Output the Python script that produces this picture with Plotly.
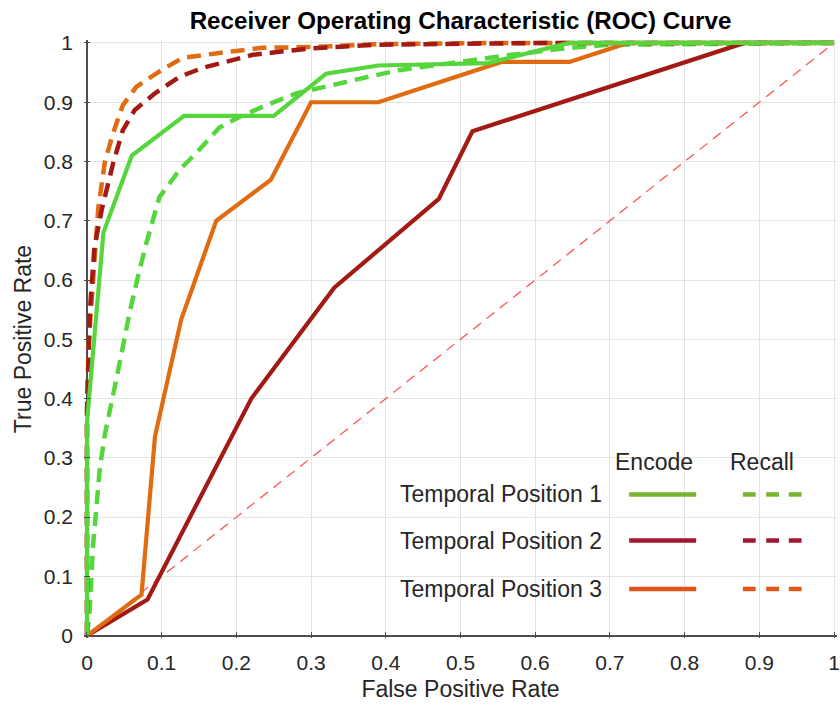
import plotly.graph_objects as go

# ---- data ----
fpr_enc1 = [0, 0, 0.022, 0.06, 0.13, 0.25, 0.32, 0.39, 0.537, 0.645, 1]
tpr_enc1 = [0, 0.36, 0.68, 0.81, 0.877, 0.877, 0.948, 0.962, 0.966, 1, 1]

fpr_rec1 = [0, 0.004, 0.008, 0.011, 0.017, 0.024, 0.031, 0.04, 0.048, 0.057, 0.069, 0.08,
            0.097, 0.124, 0.146, 0.177, 0.204, 0.24, 0.28, 0.31, 0.377, 0.417, 0.493,
            0.568, 0.64, 0.70, 1]
tpr_rec1 = [0, 0.05, 0.15, 0.2, 0.28, 0.34, 0.386, 0.437, 0.487, 0.545, 0.61, 0.665,
            0.74, 0.786, 0.814, 0.857, 0.875, 0.895, 0.915, 0.924, 0.943, 0.954, 0.968,
            0.98, 0.991, 0.997, 1]

fpr_enc2 = [0, 0.081, 0.22, 0.331, 0.471, 0.516, 0.88, 1]
tpr_enc2 = [0, 0.061, 0.40, 0.587, 0.737, 0.851, 1, 1]

fpr_rec2 = [0, 0, 0.004, 0.01, 0.02, 0.035, 0.048, 0.064, 0.091, 0.124, 0.155, 0.186,
            0.222, 0.257, 0.30, 0.39, 0.61, 1]
tpr_rec2 = [0, 0.38, 0.55, 0.656, 0.72, 0.797, 0.853, 0.887, 0.915, 0.943, 0.958, 0.968,
            0.98, 0.985, 0.991, 0.997, 1, 1]

fpr_enc3 = [0, 0.073, 0.091, 0.126, 0.173, 0.246, 0.30, 0.39, 0.555, 0.646, 0.724, 1]
tpr_enc3 = [0, 0.069, 0.336, 0.533, 0.70, 0.769, 0.90, 0.90, 0.968, 0.968, 1, 1]

fpr_rec3 = [0, 0, 0.002, 0.006, 0.01, 0.015, 0.024, 0.035, 0.048, 0.066, 0.097, 0.128,
            0.177, 0.235, 0.30, 0.39, 0.55, 1]
tpr_rec3 = [0, 0.36, 0.49, 0.57, 0.64, 0.72, 0.80, 0.848, 0.895, 0.926, 0.952, 0.975,
            0.983, 0.992, 0.993, 0.998, 1, 1]

chance = [0, 1]

series_names = ["Temporal Position 1", "Temporal Position 2", "Temporal Position 3"]
curve_colors = ["#55d63d", "#a31a14", "#e06b10"]
legend_colors = ["#79b52b", "#a51632", "#e0561a"]
column_labels = ["Encode", "Recall"]

ticks = [round(i * 0.1, 1) for i in range(11)]
tick_text = ["0"] + [f"{t:g}" for t in ticks[1:-1]] + ["1"]

FONT = "Liberation Sans, Arial, sans-serif"
TXT = "#262626"
DASH = "14px,8px"

fig = go.Figure()

# chance line
fig.add_trace(go.Scatter(x=chance, y=chance, mode="lines",
                         line=dict(color="#ff4a4a", width=1.2, dash="10px,7px"),
                         showlegend=False, hoverinfo="skip"))

# recall (dashed)
for fx, ty, c in [(fpr_rec1, tpr_rec1, curve_colors[0]),
                  (fpr_rec3, tpr_rec3, curve_colors[2]),
                  (fpr_rec2, tpr_rec2, curve_colors[1])]:
    fig.add_trace(go.Scatter(x=fx, y=ty, mode="lines",
                             line=dict(color=c, width=4.5, dash=DASH),
                             showlegend=False))

# encode (solid)
for fx, ty, c in [(fpr_enc2, tpr_enc2, curve_colors[1]),
                  (fpr_enc3, tpr_enc3, curve_colors[2]),
                  (fpr_enc1, tpr_enc1, curve_colors[0])]:
    fig.add_trace(go.Scatter(x=fx, y=ty, mode="lines",
                             line=dict(color=c, width=4.2),
                             showlegend=False))

# ---- custom legend (paper coordinates) ----
LEG = 23
annotations = []
shapes = []
annotations.append(dict(x=0.757, y=0.295, xref="paper", yref="paper", text=column_labels[0],
                        showarrow=False, font=dict(family=FONT, size=LEG, color=TXT),
                        xanchor="center", yanchor="middle"))
annotations.append(dict(x=0.900, y=0.295, xref="paper", yref="paper", text=column_labels[1],
                        showarrow=False, font=dict(family=FONT, size=LEG, color=TXT),
                        xanchor="center", yanchor="middle"))
row_y = [0.240, 0.163, 0.082]
for name, col, yy in zip(series_names, legend_colors, row_y):
    annotations.append(dict(x=0.417, y=yy, xref="paper", yref="paper", text=name,
                            showarrow=False, font=dict(family=FONT, size=LEG, color=TXT),
                            xanchor="left", yanchor="middle"))
    shapes.append(dict(type="line", xref="paper", yref="paper",
                       x0=0.724, x1=0.813, y0=yy, y1=yy,
                       line=dict(color=col, width=4.5)))
    for x0 in (0.875, 0.906, 0.936):
        shapes.append(dict(type="line", xref="paper", yref="paper",
                           x0=x0, x1=x0 + 0.017, y0=yy, y1=yy,
                           line=dict(color=col, width=4.5)))

axis_common = dict(
    tickvals=ticks, ticktext=tick_text,
    showgrid=True, gridcolor="#e4e4e4", gridwidth=1,
    showline=False, zeroline=True, zerolinecolor="#4d4d4d", zerolinewidth=1.5,
    ticks="inside", ticklen=6, tickcolor="#4d4d4d", tickwidth=1.2,
    tickfont=dict(family=FONT, size=21, color=TXT),
    ticklabeloverflow="allow",
    mirror=False,
)

fig.update_layout(
    width=840, height=707,
    margin=dict(l=84, r=0, t=40, b=69),
    paper_bgcolor="white", plot_bgcolor="white",
    title=dict(text="<b>Receiver Operating Characteristic (ROC) Curve</b>",
               xref="paper", x=0.5, xanchor="center",
               yref="container", y=0.971, yanchor="middle",
               font=dict(family=FONT, size=24.2, color="#000000")),
    xaxis=dict(range=[-0.004, 1.004], ticklabelstandoff=10,
               title=dict(text="False Positive Rate", standoff=7,
                          font=dict(family=FONT, size=23, color=TXT)),
               **axis_common),
    yaxis=dict(range=[-0.004, 1.005], ticklabelstandoff=10,
               title=dict(text="True Positive Rate", standoff=5,
                          font=dict(family=FONT, size=23, color=TXT)),
               **axis_common),
    annotations=annotations,
    shapes=shapes,
    showlegend=False,
)

fig.write_html("out.html")
